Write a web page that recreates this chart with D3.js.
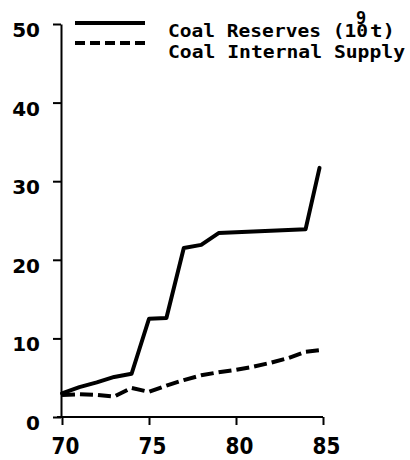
<!DOCTYPE html>
<html><head><meta charset="utf-8">
<script src="https://cdn.jsdelivr.net/npm/d3@7"></script>
<style>body{margin:0;background:#fff}</style>
</head><body>
<svg id="c" width="410" height="460"></svg>
<script>
const years = [70,71,72,73,74,75,76,77,78,79,80,81,82,83,84,84.8];
const coalReserves = [3.0,3.8,4.4,5.1,5.5,12.5,12.6,21.5,21.9,23.4,23.5,23.6,23.7,23.8,23.9,31.7];
const coalSupply = [2.8,2.9,2.8,2.6,3.7,3.2,4.0,4.7,5.3,5.7,6.0,6.4,6.9,7.5,8.3,8.5];
const xTicks = [70,75,80,85];
const yTicks = [0,10,20,30,40,50];
const legendLabels = ["Coal Reserves (10", "9", "t)", "Coal Internal Supply"];

const svg = d3.select("#c");
const x = d3.scaleLinear().domain([70,85]).range([62,323]);
const y = d3.scaleLinear().domain([0,50]).range([417,24]);

// axes
const yAxis = svg.append("g").attr("transform","translate(61,0)")
  .call(d3.axisLeft(y).tickValues(yTicks).tickSize(8).tickSizeOuter(0).tickPadding(13));
yAxis.select(".domain").attr("stroke","#000").attr("stroke-width",2);
yAxis.selectAll(".tick line").attr("stroke-width",2);
yAxis.selectAll("text").attr("font-family","DejaVu Sans").attr("font-weight","bold")
  .attr("font-size",20).attr("fill","#000").attr("dy","0.62em").attr("dx","0");

const xAxis = svg.append("g").attr("transform","translate(0,417)")
  .call(d3.axisBottom(x).tickValues(xTicks).tickSize(8).tickSizeOuter(0).tickFormat(d3.format("d")));
xAxis.select(".domain").attr("stroke","#000").attr("stroke-width",2)
  .attr("d","M57,0H323");
xAxis.selectAll(".tick line").attr("stroke-width",2);
xAxis.selectAll(".tick text").attr("font-family","DejaVu Sans").attr("font-weight","bold")
  .attr("font-size",20).attr("fill","#000").attr("dy",null).attr("y",0)
  .attr("transform","translate(3,37) scale(1,1.15)");

// lines
const lineGen = vals => d3.line().x((d,i)=>x(years[i])).y(d=>y(d))(vals);
svg.append("path").attr("d",lineGen(coalReserves)).attr("fill","none")
  .attr("stroke","#000").attr("stroke-width",4).attr("stroke-linejoin","round").attr("stroke-linecap","round");
svg.append("path").attr("d",lineGen(coalSupply)).attr("fill","none")
  .attr("stroke","#000").attr("stroke-width",4).attr("stroke-dasharray","13,5").attr("stroke-linejoin","round");

// legend
svg.append("line").attr("x1",75).attr("x2",145).attr("y1",23).attr("y2",23)
  .attr("stroke","#000").attr("stroke-width",4);
svg.append("line").attr("x1",75).attr("x2",145).attr("y1",43).attr("y2",43)
  .attr("stroke","#000").attr("stroke-width",4).attr("stroke-dasharray","10,5");
function txt(s,xx,yy,len,fs){const t=svg.append("text").attr("x",xx).attr("y",yy).text(s)
  .attr("font-family","DejaVu Sans Mono").attr("font-weight","bold")
  .attr("font-size",fs||18).attr("fill","#000");
  if(len) t.attr("textLength",len).attr("lengthAdjust","spacingAndGlyphs"); return t;}
txt(legendLabels[0],168,37,200);
txt(legendLabels[1],356,24,null,17);
txt(legendLabels[2],370,37,25);
txt(legendLabels[3],168,58,237);
</script>
</body></html>
